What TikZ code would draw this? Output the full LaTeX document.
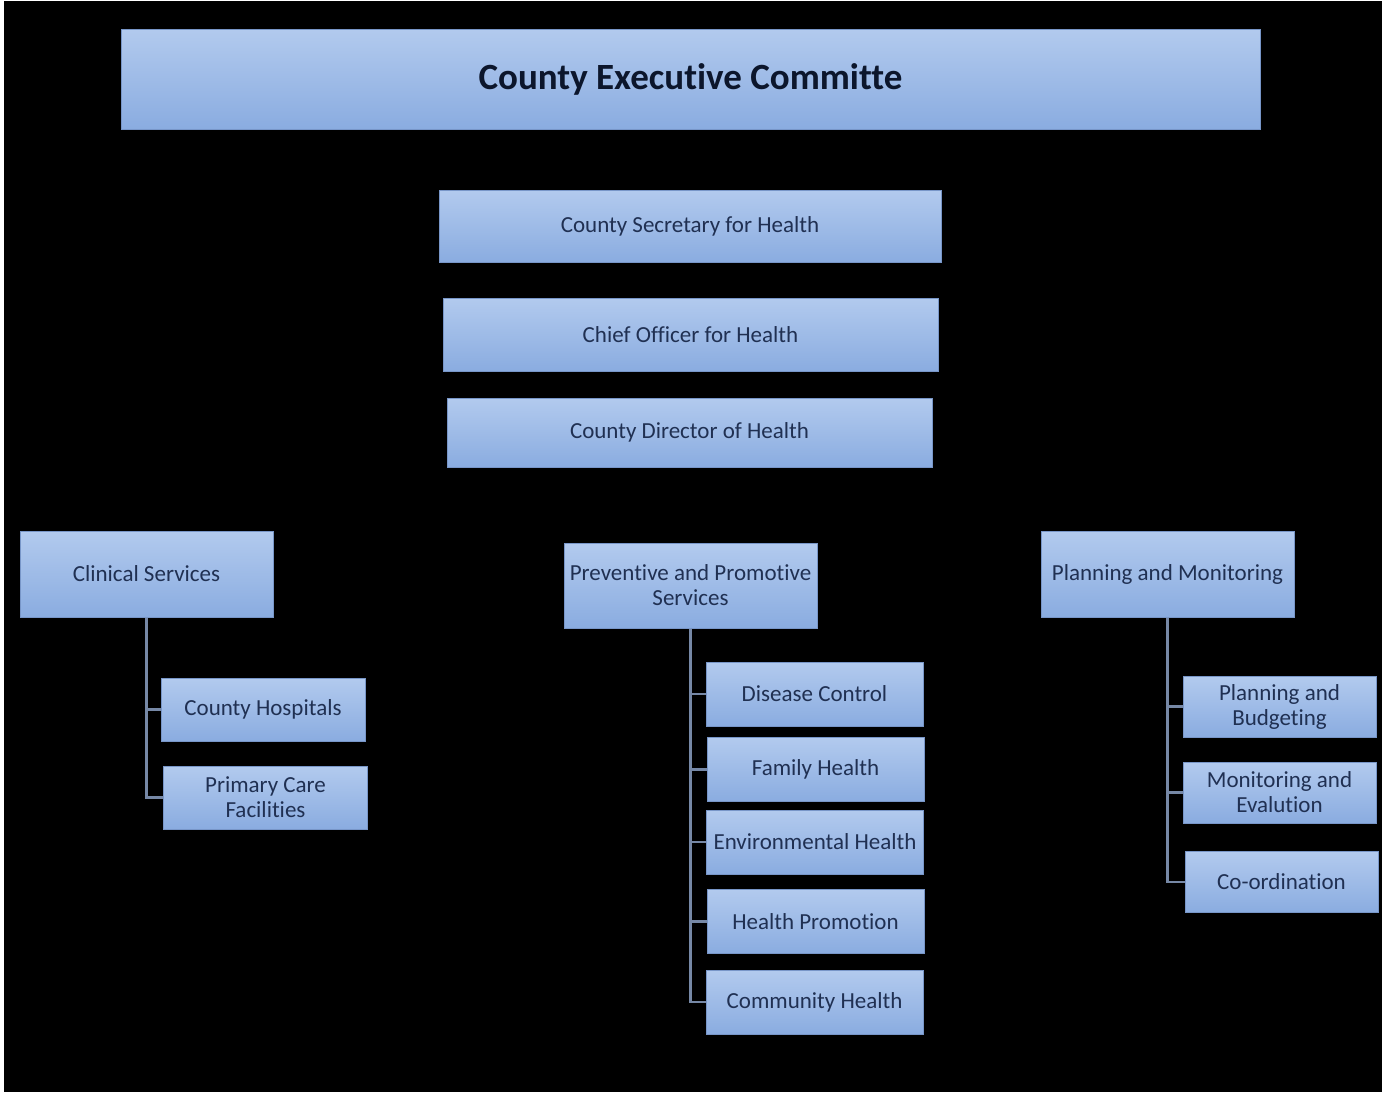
\documentclass[tikz,border=0pt]{standalone}
\usepackage{fontspec}
\setmainfont{Carlito}[Ligatures=NoCommon]
\usepackage{tikz}
\usetikzlibrary{positioning, calc}
\usepackage{xcolor}
\definecolor{boxtop}{RGB}{178,202,238}
\definecolor{boxbot}{RGB}{138,172,224}
\definecolor{boxedge}{RGB}{120,150,200}
\definecolor{navy}{RGB}{32,48,82}
\definecolor{deepnavy}{RGB}{12,22,44}
\definecolor{linkgrey}{RGB}{118,136,166}

\begin{document}
\begin{tikzpicture}[x=1pt, y=-1pt,
  box/.style={top color=boxtop, bottom color=boxbot, draw=boxedge, line width=1pt,
    text=navy, align=center, inner sep=0pt, font=\fontsize{23}{25}\selectfont},
  conn/.style={draw=linkgrey, line width=2.2pt}]
  % page and background
  \fill[white] (0,0) rectangle (1389,1096);
  \fill[black] (4,1) rectangle (1382,1092);
  \useasboundingbox (0,0) rectangle (1389,1096);
  % Top of the chain
  \node[box, minimum width=1139pt, minimum height=100pt, text=deepnavy,
    font=\fontsize{37}{42}\selectfont\bfseries] (exec) at (690.5,79) {County Executive Committe};
  \node[box, minimum width=502pt, minimum height=72pt] (sec) at (690,226) {County Secretary for Health};
  \node[box, minimum width=495pt, minimum height=73pt] (chief) at (690.5,334.5) {Chief Officer for Health};
  \node[box, minimum width=485pt, minimum height=69pt] (dir) at (689.5,432.5) {County Director of Health};
  % Departments
  \node[box, minimum width=253pt, minimum height=86pt] (clin) at (146.5,574) {Clinical Services};
  \node[box, minimum width=253pt, minimum height=85pt] (prev) at (690.5,585.5) {Preventive and Promotive\\Services};
  \node[box, minimum width=253pt, minimum height=86pt] (plan) at (1167.5,574) {Planning and Monitoring};
  % Clinical units
  \foreach \n/\x/\y/\t in {hosp/263/709.5/{County Hospitals}, prim/265.5/797.5/{Primary Care\\Facilities}} {
    \node[box, minimum width=204pt, minimum height=63pt] (\n) at (\x,\y) {\t};
    \draw[conn] (clin.south) |- (\n.west);
  }
  % Preventive units
  \foreach \n/\x/\y/\t in {dis/814.5/694/{Disease Control}, fam/815.5/769.5/{Family Health},
      env/815/842/{Environmental Health}, prom/815.5/921.5/{Health Promotion},
      comm/814.5/1002/{Community Health}} {
    \node[box, minimum width=217pt, minimum height=64pt] (\n) at (\x,\y) {\t};
    \draw[conn] (prev.south) |- (\n.west);
  }
  % Planning units
  \foreach \n/\x/\y/\t in {budg/1279.5/706.5/{Planning and\\Budgeting}, mon/1279.5/792.5/{Monitoring and\\Evalution},
      coord/1281.5/882/{Co-ordination}} {
    \node[box, minimum width=193pt, minimum height=61pt] (\n) at (\x,\y) {\t};
    \draw[conn] (plan.south) |- (\n.west);
  }
\end{tikzpicture}
\end{document}
